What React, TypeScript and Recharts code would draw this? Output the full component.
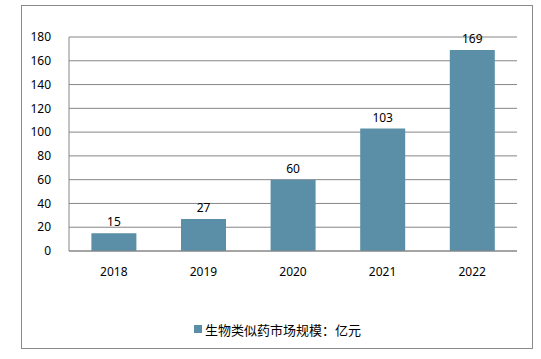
import React from "react";
import { BarChart, Bar, XAxis, YAxis, CartesianGrid, Legend, LabelList } from "recharts";

const years = ["2018", "2019", "2020", "2021", "2022"];
const marketSize = [15, 27, 60, 103, 169];
const yTicks = [0, 20, 40, 60, 80, 100, 120, 140, 160, 180];
const seriesName = "生物类似药市场规模：亿元";

const data = years.map((y, i) => ({ year: y, value: marketSize[i] }));

const BAR_COLOR = "#5b8ea7";
const GRID = "#868686";
const FONT = "'Noto Sans', 'Noto Sans CJK SC', sans-serif";

const LegendContent = () => (
  <div style={{ display: "flex", alignItems: "center", justifyContent: "center", fontFamily: "'Noto Sans CJK SC', sans-serif", fontSize: 13, color: "#000", height: 20, paddingLeft: 18 }}>
    <span style={{ display: "inline-block", width: 8, height: 8, background: BAR_COLOR, marginRight: 3 }} />
    <span>{seriesName}</span>
  </div>
);

export default function App() {
  return (
    <div style={{ position: "absolute", left: 0, top: 0, width: 541, height: 359, background: "#fff" }}>
      <div style={{ position: "absolute", left: 21, top: 5, width: 512, height: 344, border: "1px solid #8a8a8a", boxSizing: "border-box" }} />
      <BarChart
        width={541}
        height={359}
        data={data}
        margin={{ top: 37, right: 24, left: 20, bottom: 58 }}
        barCategoryGap="25%"
        style={{ position: "absolute", left: 0, top: 0 }}
      >
        <CartesianGrid vertical={false} stroke={GRID} strokeWidth={1} />
        <XAxis
          dataKey="year"
          axisLine={{ stroke: GRID }}
          tickLine={false}
          tick={{ fill: "#000", fontSize: 12, fontFamily: FONT }}
          height={30}
          tickMargin={10}
        />
        <YAxis
          domain={[0, 180]}
          ticks={yTicks}
          interval={0}
          axisLine={{ stroke: GRID }}
          tickLine={false}
          tick={{ fill: "#000", fontSize: 12, fontFamily: FONT }}
          width={49}
          tickMargin={12}
        />
        <Legend verticalAlign="bottom" height={20} content={LegendContent} wrapperStyle={{ bottom: 20 }} />
        <Bar dataKey="value" name={seriesName} fill={BAR_COLOR} isAnimationActive={false}>
          <LabelList dataKey="value" position="top" offset={7} style={{ fill: "#000", fontSize: 12, fontFamily: FONT }} />
        </Bar>
      </BarChart>
    </div>
  );
}
